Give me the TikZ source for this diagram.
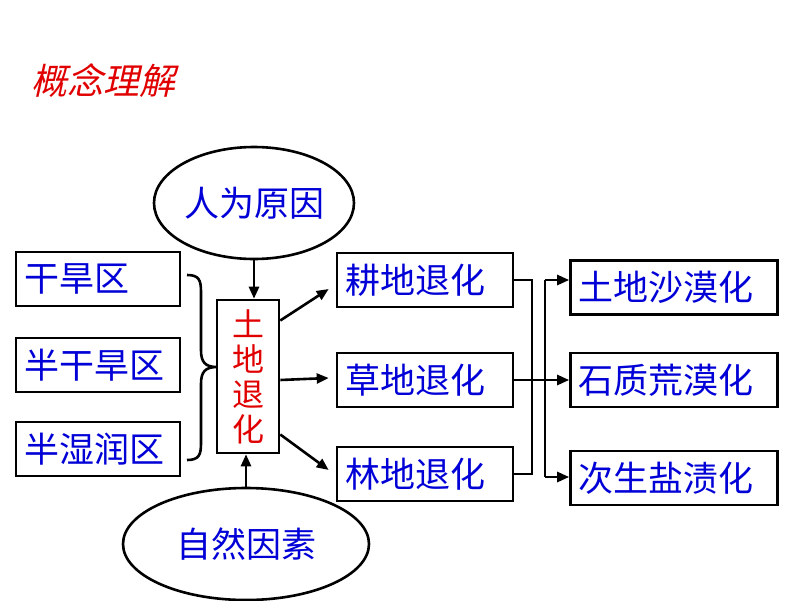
\documentclass[tikz,border=0pt]{standalone}
\usepackage{fontspec}
\usetikzlibrary{arrows.meta,shapes.geometric,calc}
\newfontfamily\cjk{Noto Sans CJK SC}
\newfontfamily\cjkslant[FakeSlant=0.22]{Noto Sans CJK SC}
\definecolor{txtblue}{RGB}{0,0,215}
\definecolor{txtred}{RGB}{225,0,0}
\begin{document}
\begin{tikzpicture}[x=1pt,y=-1pt,
  box/.style={draw=black,line width=2.6pt,rectangle,minimum height=54pt,
    inner xsep=8pt,inner ysep=0pt,align=left,text=txtblue,
    font=\cjk\fontsize{35}{37}\selectfont},
  oval/.style={draw=black,line width=2.6pt,ellipse,text=txtblue,
    font=\cjk\fontsize{35}{37}\selectfont,inner sep=0pt},
  conn/.style={draw=black,line width=2.6pt},
  arr/.style={conn,-{Triangle[length=12pt,width=10pt]}}]
\useasboundingbox (0,0) rectangle (800,600);
\fill[white] (0,0) rectangle (800,600);
% title
\node[anchor=west,text=txtred,font=\cjkslant\fontsize{36}{38}\selectfont] (title) at (28,81) {概念理解};
% left boxes
\node[box,text width=148pt] (a1) at (98,279) {干旱区};
\node[box,text width=148pt] (a2) at (98,365) {半干旱区};
\node[box,text width=148pt] (a3) at (98,449) {半湿润区};
% centre
\node[draw=black,line width=2.6pt,minimum width=62pt,minimum height=153pt,inner sep=0pt,
  align=center,text=txtred,font=\cjk\fontsize{32}{35}\selectfont] (mid) at (248,376.5)
  {土\\地\\退\\化};
% ellipses
\node[oval,minimum width=200pt,minimum height=112pt] (top) at (254,203) {人为原因};
\node[oval,minimum width=246pt,minimum height=112pt] (bot) at (246,544) {自然因素};
% middle column
\node[box,text width=160pt] (g1) at (425,280) {耕地退化};
\node[box,text width=160pt] (c1) at (425,380) {草地退化};
\node[box,text width=160pt] (l1) at (425,474) {林地退化};
% right column
\node[box,text width=191pt] (s1) at (674,287.5) {土地沙漠化};
\node[box,text width=191pt] (s2) at (674,380) {石质荒漠化};
\node[box,text width=191pt] (s3) at (674,478) {次生盐渍化};
% brace
\coordinate (br1) at (187,275);
\coordinate (br2) at (217,367);
\coordinate (br3) at (187,460);
\draw[conn] (br1) .. controls (199,275) and (201,280) .. (201,292) -- (201,350)
  .. controls (201,362) and (205,367) .. (br2)
  .. controls (205,367) and (201,372) .. (201,384) -- (201,443)
  .. controls (201,455) and (199,460) .. (br3);
% vertical arrows
\draw[arr] (top.south) -- (top.south |- mid.north);
\draw[arr] (bot.north) -- (bot.north |- mid.south);
% arrows from centre
\draw[arr] ($(mid.east)+(0,-56)$) -- ($(g1.west)+(-7,9)$);
\draw[arr] ($(mid.east)+(0,3.5)$) -- ($(c1.west)+(-7,-2)$);
\draw[arr] ($(mid.east)+(0,58)$) -- ($(l1.west)+(-7,-4)$);
% right bracket 1
\coordinate (j1a) at (532,280);
\coordinate (j1b) at (532,474);
\draw[conn] (g1.east) -- (j1a) -- (j1b) -- (l1.east);
% middle arrow
\draw[arr] (c1.east) -- (s2.west);
% right bracket 2
\coordinate (j2a) at (545,280);
\coordinate (j2b) at (545,477);
\draw[conn] (j2a) -- (j2b);
\draw[arr] (j2a) -- (j2a -| s1.west);
\draw[arr] (j2b) -- (j2b -| s3.west);
\end{tikzpicture}
\end{document}
